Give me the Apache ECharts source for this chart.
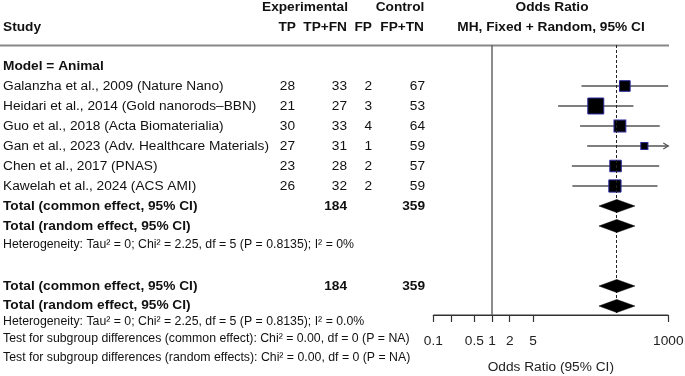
<!DOCTYPE html>
<html>
<head>
<meta charset="utf-8">
<script src="https://cdn.jsdelivr.net/npm/echarts@6/dist/echarts.min.js"></script>
<style>
html, body { margin: 0; padding: 0; background: #fff; }
#main { width: 685px; height: 376px; }
</style>
</head>
<body>
<div id="main"></div>
<script>
// forest plot - odds ratio, animal model
var studies = [
    'Galanzha et al., 2009 (Nature Nano)',
    'Heidari et al., 2014 (Gold nanorods\u2013BBN)',
    'Guo et al., 2018 (Acta Biomaterialia)',
    'Gan et al., 2023 (Adv. Healthcare Materials)',
    'Chen et al., 2017 (PNAS)',
    'Kawelah et al., 2024 (ACS AMI)'
];
var tp   = [28, 21, 30, 27, 23, 26];
var tpfn = [33, 27, 33, 31, 28, 32];
var fp   = [2, 3, 4, 1, 2, 2];
var fptn = [67, 53, 64, 59, 57, 59];

// odds ratio + 95% CI
var oddsRatio = [182, 58.3, 150, 391.5, 126.5, 123.5];
var ciLow     = [33.3, 13.3, 31.5, 41.6, 22.8, 23.3];
var ciHigh    = [996, 255, 714, 3683, 700, 655];
var weight    = [13.5, 30.3, 16.7, 6.0, 15.8, 17.8];

// pooled (common, random, common, random)
var pooledOR   = [132.6, 132.6, 132.6, 132.6];
var pooledLow  = [66, 66, 66, 66];
var pooledHigh = [270, 270, 270, 270];
var totalExp = 184, totalCtrl = 359;

var tickValues  = [0.1, 0.2, 0.5, 1, 2, 5, 1000];
var labelValues = [0.1, 0.5, 1, 2, 5, 1000];
var axisMin = 0.1, axisMax = 1000;

var het1 = 'Heterogeneity: Tau\u00b2 = 0; Chi\u00b2 = 2.25, df = 5 (P = 0.8135); I\u00b2 = 0%';
var het2 = 'Heterogeneity: Tau\u00b2 = 0; Chi\u00b2 = 2.25, df = 5 (P = 0.8135); I\u00b2 = 0.0%';
var test1 = 'Test for subgroup differences (common effect): Chi\u00b2 = 0.00, df = 0 (P = NA)';
var test2 = 'Test for subgroup differences (random effects): Chi\u00b2 = 0.00, df = 0 (P = NA)';

// rows: index k -> 20px per row, Model = Animal is row 0
var studyRows  = [1, 2, 3, 4, 5, 6];
var pooledRows = [7, 8, 11, 12];
var rowMin = -1.05, rowMax = 12.45;   // forest panel row range

var FONT = '"Liberation Sans", Arial, Helvetica, sans-serif';
var BIG = 13.7, SMALL = 12.3;
var texts = [];
function addText(x, k, s, align, bold, size) {
    texts.push({x: x, k: k, s: String(s), align: align, bold: bold, size: size || BIG});
}
// header
addText(305, -2.93, 'Experimental', 'center', true);
addText(400, -2.93, 'Control', 'center', true);
addText(552, -2.93, 'Odds Ratio', 'center', true);
addText(3, -1.95, 'Study', 'left', true);
addText(296, -1.95, 'TP', 'right', true);
addText(347, -1.95, 'TP+FN', 'right', true);
addText(372, -1.95, 'FP', 'right', true);
addText(424, -1.95, 'FP+TN', 'right', true);
addText(551, -1.95, 'MH, Fixed + Random, 95% CI', 'center', true);
addText(3, 0, 'Model = Animal', 'left', true);
for (var i = 0; i < studies.length; i++) {
    var k = studyRows[i];
    addText(3, k, studies[i], 'left', false);
    addText(295, k, tp[i], 'right', false);
    addText(347, k, tpfn[i], 'right', false);
    addText(372, k, fp[i], 'right', false);
    addText(425, k, fptn[i], 'right', false);
}
addText(3, 7, 'Total (common effect, 95% CI)', 'left', true);
addText(347, 7, totalExp, 'right', true);
addText(425, 7, totalCtrl, 'right', true);
addText(3, 8, 'Total (random effect, 95% CI)', 'left', true);
addText(3, 8.95, het1, 'left', false, SMALL);
addText(3, 11, 'Total (common effect, 95% CI)', 'left', true);
addText(347, 11, totalExp, 'right', true);
addText(425, 11, totalCtrl, 'right', true);
addText(3, 11.95, 'Total (random effect, 95% CI)', 'left', true);
addText(3, 12.8, het2, 'left', false, SMALL);
addText(3, 13.65, test1, 'left', false, SMALL);
addText(3, 14.6, test2, 'left', false, SMALL);

var lg = Math.log10;
var myChart = echarts.init(document.getElementById('main'));

option = {
    animation: false,
    grid: [
        {left: 0, right: 0, top: 0, height: 376, outerBoundsMode: 'none'},          // table
        {left: 433.3, right: 16.7, top: 45, height: 270, outerBoundsMode: 'none'}   // forest
    ],
    xAxis: [
        {gridIndex: 0, type: 'value', min: 0, max: 685, show: false},
        {
            gridIndex: 1, type: 'value', min: lg(axisMin), max: lg(axisMax),
            position: 'bottom',
            splitLine: {show: false},
            axisLine: {show: true, onZero: false, lineStyle: {color: '#333', width: 1.2}},
            axisTick: {show: true, inside: false, customValues: tickValues.map(lg), length: 7,
                lineStyle: {color: '#333', width: 1.2}},
            axisLabel: {
                customValues: labelValues.map(lg),
                margin: 19, color: '#222', fontSize: BIG, fontFamily: FONT,
                formatter: function (v) { return String(parseFloat(Math.pow(10, v).toPrecision(6))); }
            },
            name: 'Odds Ratio (95% CI)', nameLocation: 'middle', nameGap: 45,
            nameTextStyle: {color: '#222', fontSize: BIG, fontFamily: FONT}
        }
    ],
    yAxis: [
        {gridIndex: 0, type: 'value', inverse: true, min: -3.3, max: 15.5, show: false},
        {gridIndex: 1, type: 'value', inverse: true, min: rowMin, max: rowMax, show: false}
    ],
    series: [
        {
            // header separator
            type: 'line', xAxisIndex: 0, yAxisIndex: 0, symbol: 'none', silent: true,
            lineStyle: {color: '#888', width: 2},
            data: [[0, -1.02], [669, -1.02]]
        },
        {
            type: 'custom', xAxisIndex: 0, yAxisIndex: 0, silent: true, clip: false,
            data: texts.map(function (t) { return [t.x, t.k]; }),
            renderItem: function (params, api) {
                var t = texts[params.dataIndex];
                var p = api.coord([api.value(0), api.value(1)]);
                return {
                    type: 'text', x: p[0], y: p[1],
                    style: {
                        text: t.s, textAlign: t.align, textVerticalAlign: 'middle',
                        fill: '#111',
                        font: (t.bold ? 'bold ' : '') + t.size + 'px ' + FONT
                    }
                };
            }
        },
        {
            // axis baseline along the panel bottom
            type: 'custom', xAxisIndex: 1, yAxisIndex: 1, silent: true, clip: false, z: 1,
            data: [[lg(axisMin), lg(axisMax), rowMax]],
            renderItem: function (params, api) {
                var a = api.coord([api.value(0), api.value(2)]);
                var b = api.coord([api.value(1), api.value(2)]);
                return {
                    type: 'line', shape: {x1: a[0], y1: a[1], x2: b[0], y2: b[1]},
                    style: {stroke: '#333', lineWidth: 1.2}
                };
            }
        },
        {
            // confidence intervals
            type: 'custom', xAxisIndex: 1, yAxisIndex: 1, silent: true, clip: false, z: 2,
            data: oddsRatio.map(function (o, i) { return [lg(ciLow[i]), lg(ciHigh[i]), studyRows[i]]; }),
            renderItem: function (params, api) {
                var lo = Math.max(api.value(0), lg(axisMin));
                var hiRaw = api.value(1);
                var hi = Math.min(hiRaw, lg(axisMax));
                var a = api.coord([lo, api.value(2)]);
                var b = api.coord([hi, api.value(2)]);
                var kids = [{
                    type: 'line', shape: {x1: a[0], y1: a[1], x2: b[0], y2: b[1]},
                    style: {stroke: '#555', lineWidth: 1.3}
                }];
                if (hiRaw > lg(axisMax)) {
                    kids.push({
                        type: 'polyline',
                        shape: {points: [[b[0] - 5, b[1] - 3], [b[0], b[1]], [b[0] - 5, b[1] + 3]]},
                        style: {stroke: '#555', lineWidth: 1.2, fill: null}
                    });
                }
                return {type: 'group', children: kids};
            }
        },
        {
            // study estimates
            type: 'scatter', xAxisIndex: 1, yAxisIndex: 1, silent: true, z: 4,
            symbol: 'rect',
            data: oddsRatio.map(function (o, i) {
                return {value: [lg(o), studyRows[i]], symbolSize: 2.9 * Math.sqrt(weight[i])};
            }),
            itemStyle: {color: '#000', opacity: 1, borderColor: '#2a2a9c', borderWidth: 1},
            markLine: {
                silent: true, symbol: 'none', label: {show: false},
                data: [
                    {xAxis: 0, lineStyle: {color: '#666', width: 1.5, type: 'solid'}},
                    {xAxis: lg(pooledOR[0]), lineStyle: {color: '#222', width: 1, type: [3, 2]}}
                ]
            }
        },
        {
            // pooled diamonds
            type: 'custom', xAxisIndex: 1, yAxisIndex: 1, silent: true, z: 5,
            data: pooledOR.map(function (o, i) { return [lg(pooledLow[i]), lg(o), lg(pooledHigh[i]), pooledRows[i]]; }),
            renderItem: function (params, api) {
                var k = api.value(3);
                var l = api.coord([api.value(0), k]);
                var m = api.coord([api.value(1), k]);
                var r = api.coord([api.value(2), k]);
                var h = 6.5;
                return {
                    type: 'polygon',
                    shape: {points: [[l[0], l[1]], [m[0], m[1] - h], [r[0], r[1]], [m[0], m[1] + h]]},
                    style: {fill: '#000', stroke: '#000', lineWidth: 0.5}
                };
            }
        }
    ]
};

myChart.setOption(option);
window.onresize = myChart.resize;
</script>
</body>
</html>
